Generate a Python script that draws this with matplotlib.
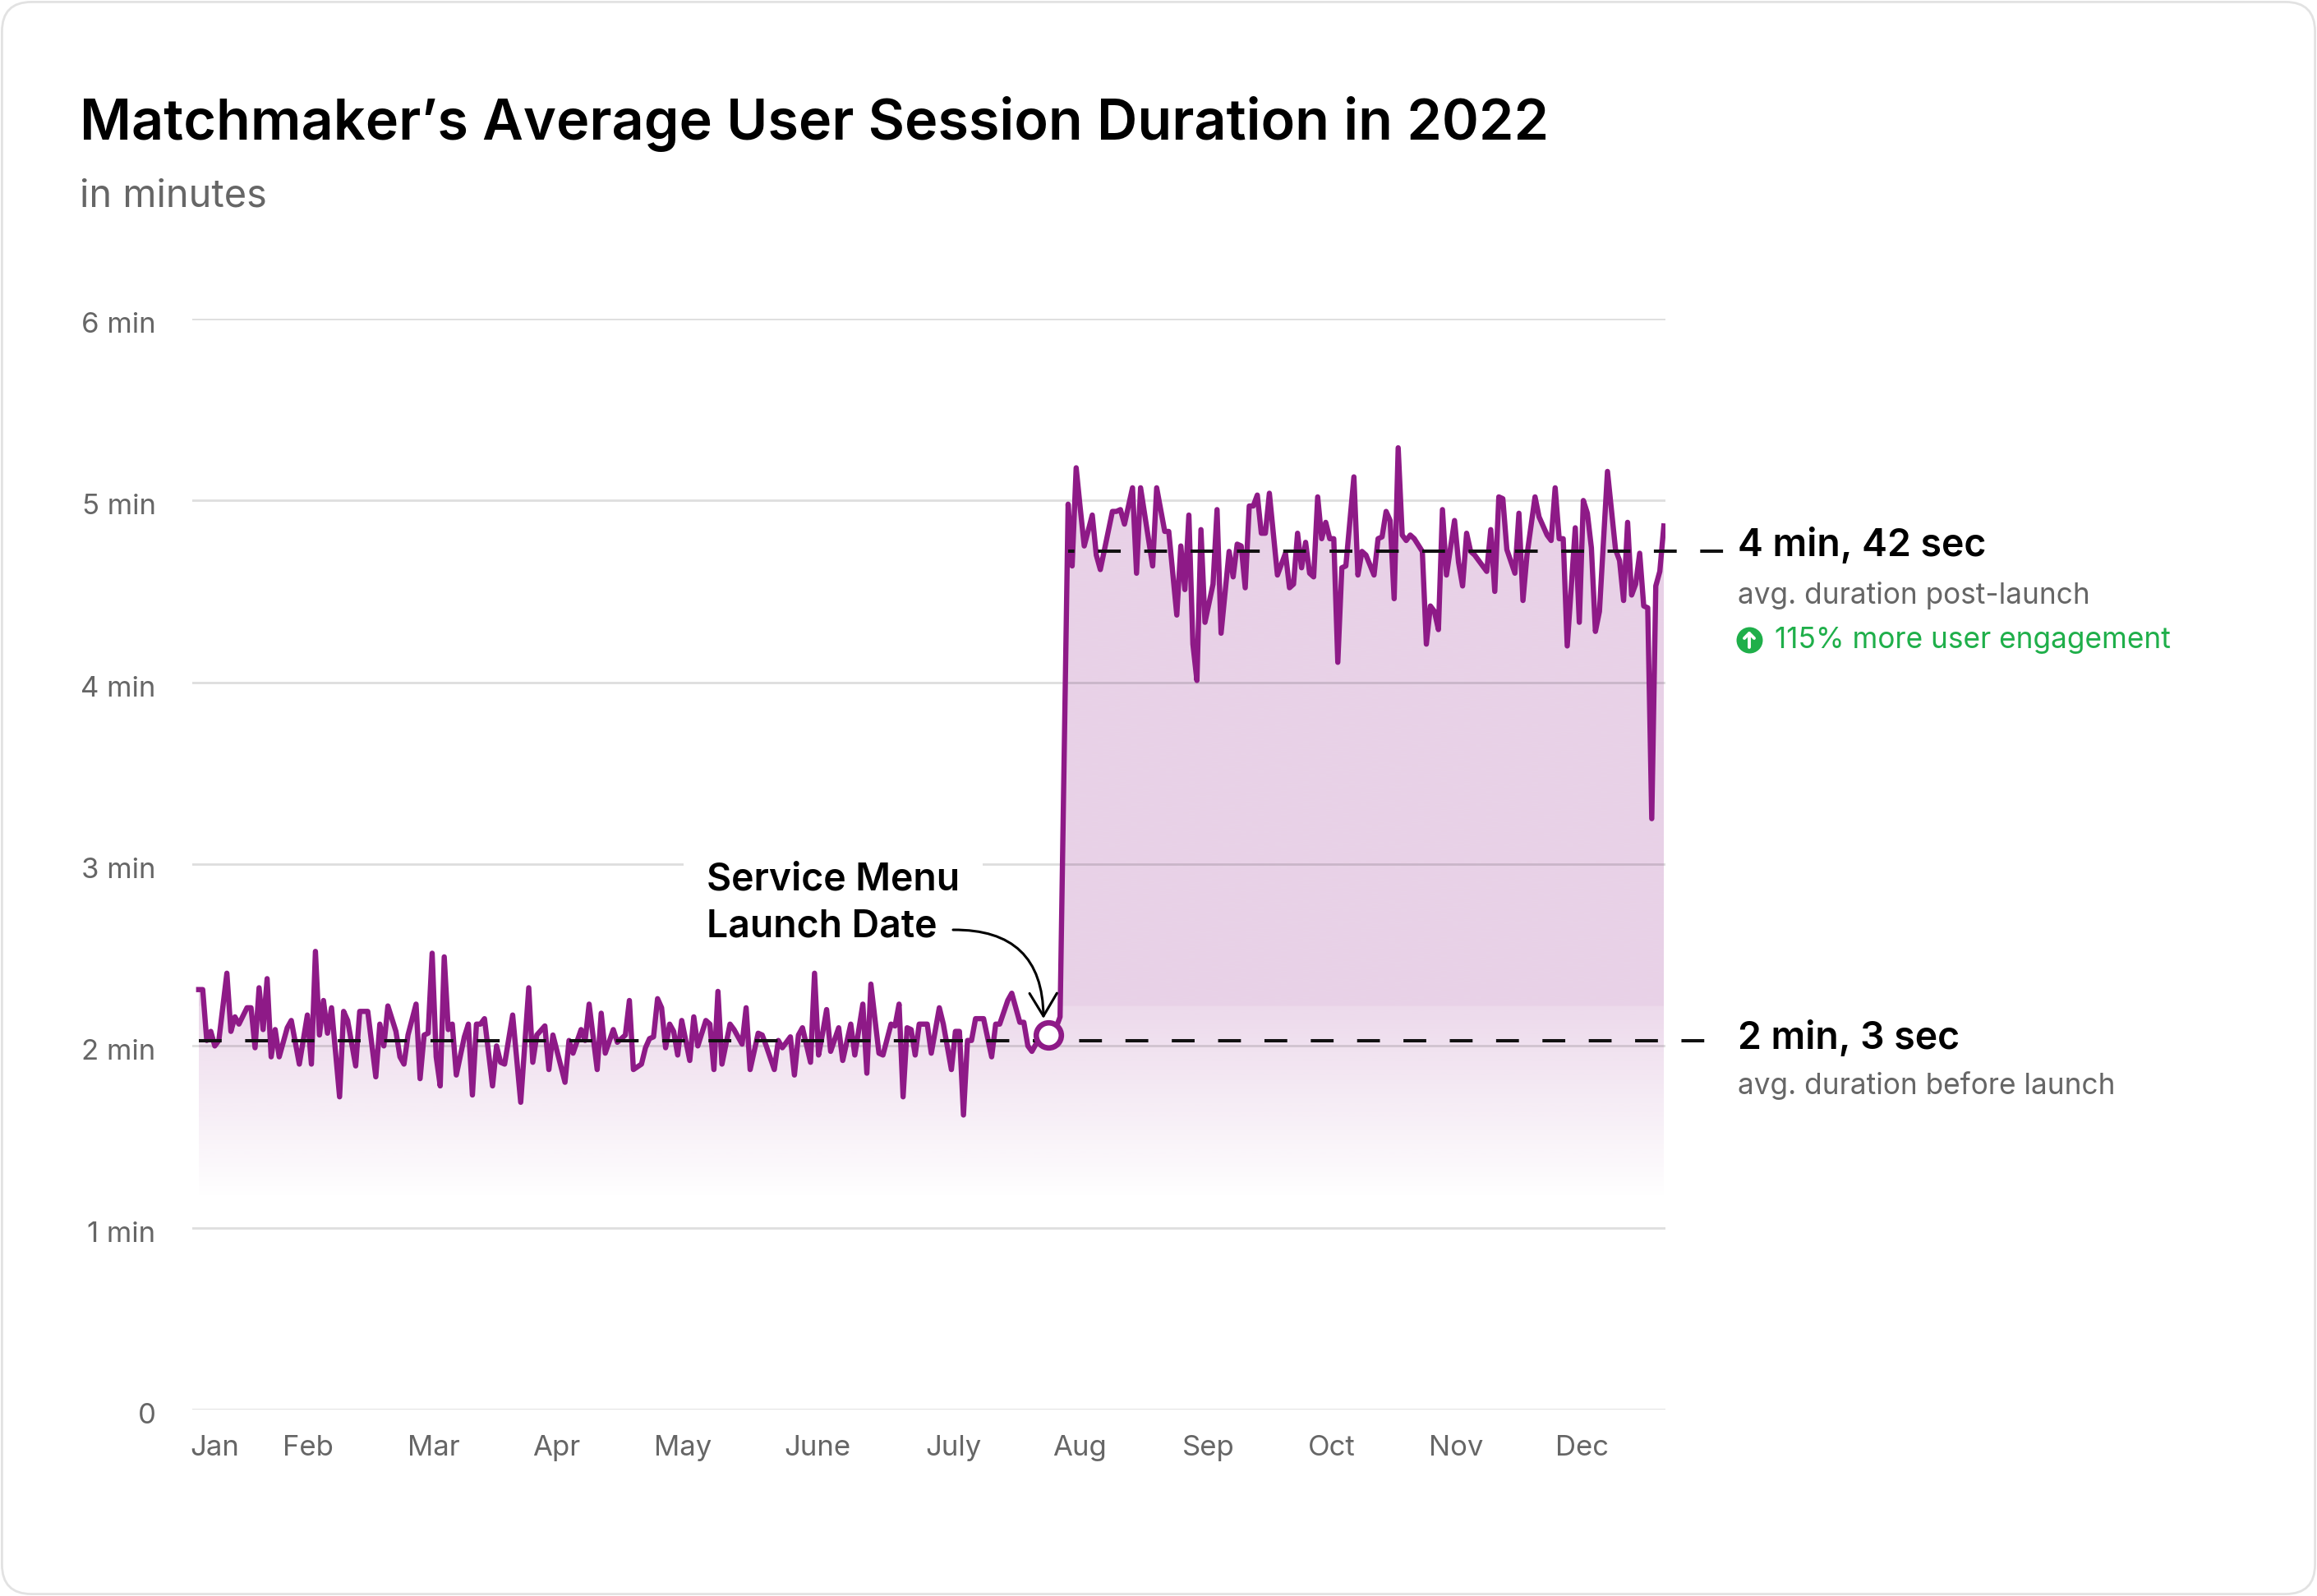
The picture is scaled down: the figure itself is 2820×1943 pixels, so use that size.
import matplotlib
matplotlib.use("Agg")
import matplotlib.pyplot as plt
import matplotlib.transforms as mtransforms
import numpy as np
from matplotlib.patches import FancyBboxPatch, FancyArrowPatch
from matplotlib.lines import Line2D

plt.rcParams['font.family'] = ['Inter', 'DejaVu Sans']

# ---- data (day of year 2022, average session length in minutes) ----
days = [
    0, 1, 2, 3, 4, 5, 7, 8, 9, 10, 12, 13, 14, 15, 16, 17, 18, 19, 20, 22,
    23, 25, 27, 28, 29, 30, 31, 32, 33, 35, 36, 37, 39, 40, 42, 44, 45, 46, 47, 49,
    50, 51, 52, 54, 55, 56, 57, 58, 59, 60, 61, 62, 63, 64, 66, 67, 68, 69, 70, 71,
    73, 74, 75, 76, 78, 80, 82, 83, 84, 86, 87, 88, 91, 92, 93, 95, 96, 97, 99, 100,
    101, 103, 104, 106, 107, 108, 110, 111, 112, 113, 114, 115, 116, 117, 118, 119, 120, 122, 123, 124,
    126, 127, 128, 129, 130, 132, 133, 135, 136, 137, 139, 140, 141, 143, 144, 145, 147, 148, 149, 150,
    152, 153, 154, 155, 156, 157, 159, 160, 162, 163, 165, 166, 167, 169, 170, 172, 173, 174, 175, 176,
    177, 178, 179, 181, 182, 184, 185, 187, 188, 189, 190, 191, 192, 193, 195, 197, 198, 199, 201, 202,
    203, 204, 205, 206, 207, 209, 211, 213, 214,
    216, 217, 218, 219, 220, 222, 223, 224, 227, 228, 229, 230, 232, 233, 234, 237, 238, 240, 241, 243,
    244, 245, 246, 247, 248, 249, 250, 252, 253, 254, 256, 257, 258, 259, 260, 261, 262, 263, 264, 265,
    266, 268, 270, 271, 272, 273, 274, 275, 276, 277, 278, 279, 280, 281, 282, 283, 284, 285, 287, 288,
    289, 290, 292, 293, 294, 295, 296, 297, 298, 299, 300, 301, 302, 304, 305, 306, 307, 308, 309, 310,
    312, 313, 314, 315, 316, 317, 320, 321, 322, 323, 324, 325, 327, 328, 329, 330, 332, 333, 335, 336,
    337, 338, 339, 340, 342, 343, 344, 345, 346, 347, 348, 350, 352, 353, 354, 355, 356, 357, 358, 359,
    360, 361, 362, 363, 364,
]
minutes = [
    2.31, 2.31, 2.03, 2.08, 2.00, 2.03, 2.40, 2.08, 2.16, 2.12, 2.21, 2.21, 1.99, 2.32, 2.09, 2.37, 1.94, 2.09, 1.94, 2.10,
    2.14, 1.90, 2.17, 1.90, 2.52, 2.06, 2.25, 2.07, 2.21, 1.72, 2.19, 2.14, 1.89, 2.19, 2.19, 1.83, 2.12, 2.00, 2.22, 2.08,
    1.94, 1.90, 2.06, 2.23, 1.82, 2.06, 2.07, 2.51, 1.94, 1.78, 2.49, 2.09, 2.12, 1.84, 2.05, 2.12, 1.73, 2.12, 2.12, 2.15,
    1.78, 2.00, 1.91, 1.90, 2.17, 1.69, 2.32, 1.91, 2.06, 2.11, 1.87, 2.06, 1.80, 2.03, 1.96, 2.09, 2.03, 2.23, 1.87, 2.18,
    1.96, 2.09, 2.02, 2.06, 2.25, 1.87, 1.90, 1.99, 2.04, 2.05, 2.26, 2.21, 1.99, 2.12, 2.08, 1.95, 2.14, 1.92, 2.16, 2.00,
    2.14, 2.12, 1.87, 2.30, 1.90, 2.12, 2.09, 2.01, 2.21, 1.87, 2.07, 2.06, 2.00, 1.87, 2.03, 1.99, 2.05, 1.84, 2.06, 2.10,
    1.91, 2.40, 1.95, 2.07, 2.20, 1.97, 2.10, 1.92, 2.12, 1.95, 2.23, 1.85, 2.34, 1.96, 1.95, 2.12, 2.11, 2.23, 1.72, 2.10,
    2.09, 1.95, 2.12, 2.12, 1.96, 2.21, 2.12, 1.87, 2.08, 2.08, 1.62, 2.03, 2.03, 2.15, 2.15, 1.94, 2.12, 2.12, 2.25, 2.29,
    2.21, 2.13, 2.13, 2.00, 1.97, 2.05, 2.06, 2.10, 2.16,
    4.98, 4.64, 5.18, 4.96, 4.75, 4.92, 4.70, 4.62, 4.94, 4.94, 4.95, 4.87, 5.07, 4.60, 5.07, 4.64, 5.07, 4.83, 4.83, 4.37,
    4.75, 4.51, 4.92, 4.21, 4.01, 4.84, 4.33, 4.54, 4.95, 4.27, 4.72, 4.58, 4.76, 4.75, 4.52, 4.97, 4.97, 5.03, 4.82, 4.82,
    5.04, 4.59, 4.71, 4.52, 4.54, 4.82, 4.63, 4.77, 4.60, 4.58, 5.02, 4.79, 4.88, 4.79, 4.79, 4.11, 4.63, 4.64, 5.13, 4.59,
    4.72, 4.70, 4.59, 4.79, 4.80, 4.94, 4.89, 4.46, 5.29, 4.81, 4.78, 4.81, 4.79, 4.72, 4.21, 4.42, 4.39, 4.29, 4.95, 4.59,
    4.89, 4.66, 4.53, 4.82, 4.72, 4.70, 4.61, 4.84, 4.50, 5.02, 5.01, 4.73, 4.60, 4.93, 4.45, 4.70, 5.02, 4.91, 4.81, 4.78,
    5.07, 4.79, 4.79, 4.20, 4.85, 4.33, 5.00, 4.93, 4.74, 4.28, 4.39, 5.16, 4.73, 4.67, 4.45, 4.88, 4.48, 4.54, 4.71, 4.42,
    4.41, 3.25, 4.53, 4.61, 4.86,
]
launch_day = 211
launch_value = 2.06
avg_before = 2.03   # 2 min, 3 sec
avg_after = 4.72    # 4 min, 42 sec
month_labels = ['Jan', 'Feb', 'Mar', 'Apr', 'May', 'June', 'July', 'Aug', 'Sep', 'Oct', 'Nov', 'Dec']
month_pos = [3.9, 27.1, 58.4, 88.9, 120.2, 153.7, 187.6, 218.9, 250.9, 281.5, 312.4, 343.7]
y_ticks = [0, 1, 2, 3, 4, 5, 6]
y_labels = ['0', '1 min', '2 min', '3 min', '4 min', '5 min', '6 min']

PURPLE = '#8E1A87'
GREY = '#666666'
GREEN = '#1FAF4A'
W, H = 2820, 1943


def fx(px):
    return px / W


def fy(py):
    return 1 - py / H


fig = plt.figure(figsize=(W / 200, H / 200), dpi=200)
ax = fig.add_axes([fx(234), fy(1716), fx(2027) - fx(234), fy(388) - fy(1716)])
ax.set_xlim(-1.6, 364.4)
ax.set_ylim(0, 6)
for s in ax.spines.values():
    s.set_visible(False)

# gridlines
for yv in y_ticks:
    ax.axhline(yv, color='black', alpha=0.13, lw=1.0, zorder=2)

# fill under line: solid tint above ~2.2 min, fading gradient below
days_arr = np.array(days)
min_arr = np.array(minutes)
poly = ax.fill_between(days_arr, min_arr, 0, facecolor='none', edgecolor='none')
yy = np.linspace(0, 6, 600)
alpha = np.where(yy >= 2.22, 0.20, np.clip(0.165 * (yy - 1.15) / 1.07, 0, None))
rgb = np.array(matplotlib.colors.to_rgb(PURPLE))
grad = np.zeros((600, 1, 4))
grad[:, 0, :3] = rgb
grad[:, 0, 3] = alpha
im = ax.imshow(grad, extent=[days[0], days[-1], 0, 6], origin='lower',
               aspect='auto', zorder=1, interpolation='bilinear')
im.set_clip_path(poly.get_paths()[0], transform=ax.transData)

ax.plot(days_arr, min_arr, color=PURPLE, lw=2.3, solid_joinstyle='round', zorder=3)

# average dashed lines
ax.plot([0, 379], [avg_before, avg_before], color='#111111', lw=1.45,
        linestyle=(0, (6.9, 7.1)), clip_on=False, zorder=4)
ax.plot([216, 379], [avg_after, avg_after], color='#111111', lw=1.45,
        linestyle=(5.0, (6.9, 7.1)), clip_on=False, zorder=4)

ax.plot([launch_day], [launch_value], 'o', ms=11, mfc='white', mec=PURPLE,
        mew=2.4, zorder=5)

ax.set_yticks(y_ticks)
ax.set_yticklabels(y_labels)
ax.set_xticks(month_pos)
ax.set_xticklabels(month_labels)
ax.tick_params(axis='both', length=0, labelsize=12.5, labelcolor=GREY)
ax.tick_params(axis='y', pad=16)
ax.tick_params(axis='x', pad=11)
shift = mtransforms.ScaledTranslation(0, -1.6 / 72, fig.dpi_scale_trans)
for lab in ax.get_yticklabels():
    lab.set_horizontalalignment('right')
    lab.set_transform(lab.get_transform() + shift)

# title
fig.text(fx(97), fy(170), 'Matchmaker\u2019s Average User Session Duration in 2022',
         fontsize=24.6, fontweight='semibold', color='black', va='baseline', ha='left')
fig.text(fx(97), fy(251), 'in minutes', fontsize=16.9, color=GREY, va='baseline', ha='left')

# launch annotation
fig.text(fx(860), fy(1100), 'Service Menu\nLaunch Date', fontsize=16.7,
         fontweight='semibold', color='black', va='center', ha='left', linespacing=1.4,
         bbox=dict(boxstyle='square,pad=0.6', facecolor='white', edgecolor='none'), zorder=6)
arrow = FancyArrowPatch((fx(1160), fy(1132)), (fx(1270), fy(1240)),
                        transform=fig.transFigure,
                        arrowstyle='->,head_length=0.5,head_width=0.3', color='black',
                        lw=1.1, connectionstyle='arc3,rad=-0.5', mutation_scale=20,
                        shrinkA=0, shrinkB=0, zorder=7)
fig.add_artist(arrow)

# right side labels
fig.text(fx(2115), fy(665), '4 min, 42 sec', fontsize=16.7, fontweight='semibold',
         color='black', va='center', ha='left')
fig.text(fx(2115), fy(725), 'avg. duration post-launch', fontsize=12.7, color=GREY,
         va='center', ha='left')
fig.add_artist(Line2D([fx(2129)], [fy(779)], marker='o', ms=10.5, color=GREEN,
                      transform=fig.transFigure))
fig.add_artist(Line2D([fx(2129), fx(2129)], [fy(788), fy(771)], color='white', lw=1.4,
                      transform=fig.transFigure, solid_capstyle='round'))
fig.add_artist(Line2D([fx(2123), fx(2129), fx(2135)], [fy(777), fy(771), fy(777)],
                      color='white', lw=1.4, transform=fig.transFigure,
                      solid_capstyle='round', solid_joinstyle='round'))
fig.text(fx(2160), fy(779), '115% more user engagement', fontsize=12.7, color=GREEN,
         va='center', ha='left')
fig.text(fx(2115), fy(1264), '2 min, 3 sec', fontsize=16.7, fontweight='semibold',
         color='black', va='center', ha='left')
fig.text(fx(2115), fy(1322), 'avg. duration before launch', fontsize=12.7, color=GREY,
         va='center', ha='left')

# rounded card border
card = FancyBboxPatch((0.012, 0.012), W / 200 - 0.024, H / 200 - 0.024,
                      boxstyle='round,pad=0,rounding_size=0.18', transform=fig.dpi_scale_trans,
                      facecolor='none', edgecolor='#E2E2E2', lw=1.0)
fig.add_artist(card)

fig.savefig('out.png', dpi=200, facecolor='white')
